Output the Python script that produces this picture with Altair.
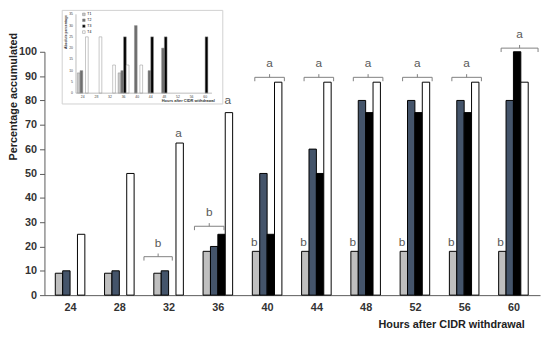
import altair as alt
import pandas as pd

# ---------------- main chart data ----------------
hours = [24, 28, 32, 36, 40, 44, 48, 52, 56, 60]
series = ["G1", "G2", "G3", "G4"]
gray_vals = [9, 9, 9, 18, 18, 18, 18, 18, 18, 18]
blue_vals = [10, 10, 10, 20, 50, 60, 80, 80, 80, 80]
black_vals = [0, 0, 0, 25, 25, 50, 75, 75, 75, 100]
white_vals = [25, 50, 62.5, 75, 87.5, 87.5, 87.5, 87.5, 87.5, 87.5]
series_colors = ["#bfbfbf", "#44546a", "#000000", "#ffffff"]
y_ticks = [0, 10, 20, 30, 40, 50, 60, 70, 80, 90, 100]

# significance brackets
br_hours = [32, 36, 40, 44, 48, 52, 56, 60]
br_level = [15.8, 28.3, 89.5, 89.5, 89.5, 89.5, 89.5, 101.5]
br_start = [-2.0, -1.9, -1.0, -1.0, -1.0, -1.0, -1.0, -1.0]
br_end = [0.3, 0.5, 1.4, 1.4, 1.4, 1.4, 1.4, 2.0]
br_letter = ["b", "b", "a", "a", "a", "a", "a", "a"]

# single letters
sl_hours = [32, 36, 40, 44, 48, 52, 56, 60]
sl_letter = ["a", "a", "b", "b", "b", "b", "b", "b"]
sl_level = [66.5, 80, 22, 22, 22, 22, 22, 22]
sl_offset = [0.8, 0.8, -1.05, -1.05, -1.05, -1.05, -1.05, -1.05]

# ---------------- inset data ----------------
inset_series = ["T1", "T2", "T3", "T4"]
inset_colors = ["#c8c8c8", "#6e6e6e", "#000000", "#ffffff"]
in_s1 = [9, 0, 0, 9, 0, 0, 0, 0, 0, 0]
in_s2 = [10, 0, 0, 10, 30, 10, 20, 0, 0, 0]
in_s3 = [0, 0, 0, 25, 0, 25, 25, 0, 0, 25]
in_s4 = [25, 25, 12.5, 12.5, 12.5, 0, 0, 0, 0, 0]
inset_yticks = [0, 5, 10, 15, 20, 25, 30, 35]

FONT = "Liberation Sans"

rows = []
for si, (name, vals) in enumerate(zip(series, [gray_vals, blue_vals, black_vals, white_vals])):
    for h, v in zip(hours, vals):
        rows.append({"hour": h, "series": name, "idx": si, "value": v})
main_df = pd.DataFrame(rows)

irows = []
for si, (name, vals) in enumerate(zip(inset_series, [in_s1, in_s2, in_s3, in_s4])):
    for h, v in zip(hours, vals):
        irows.append({"hour": h, "series": name, "idx": si, "value": v})
inset_df = pd.DataFrame(irows)

br_df = pd.DataFrame({"hour": br_hours, "level": br_level, "s": br_start,
                      "e": br_end, "letter": br_letter})
sl_df = pd.DataFrame({"hour": sl_hours, "letter": sl_letter,
                      "level": sl_level, "off": sl_offset})

W = 0.6
x_scale = alt.Scale(domain=[21.92, 62.16], zero=False, nice=False, padding=0)
y_scale = alt.Scale(domain=[0, 100], nice=False, padding=0)

x_axis = alt.Axis(values=hours, format="d", title="Hours after CIDR withdrawal",
                  ticks=False, grid=False, domainColor="#595959",
                  labelFont=FONT, labelFontSize=11, labelFontWeight="bold",
                  labelColor="#333333", labelPadding=7,
                  titleFont=FONT, titleFontSize=11, titleFontWeight="bold",
                  titleColor="#222222", titleX=487, titleY=30,
                  titleAlign="right", titleBaseline="middle")
y_axis = alt.Axis(values=y_ticks, tickCount=11, title="Percentage accumulated",
                  grid=False, tickSize=5, tickColor="#595959", domainColor="#595959",
                  labelFont=FONT, labelFontSize=11, labelFontWeight="bold",
                  labelColor="#333333", labelPadding=3, labelOverlap=False,
                  titleFont=FONT, titleFontSize=11, titleFontWeight="bold",
                  titleColor="#222222", titleX=-31, titleY=45, titleAngle=-90,
                  titleAlign="center", titleBaseline="middle")


def X(field):
    return alt.X(field, scale=x_scale, axis=x_axis)


def Y(field):
    return alt.Y(field, scale=y_scale, axis=y_axis)


bars = alt.Chart(main_df).transform_filter("datum.value > 0").transform_calculate(
    x0=f"datum.hour + datum.idx*{W} - {2 * W}",
    x1=f"datum.hour + datum.idx*{W} - {W}",
).mark_bar(stroke="black", strokeWidth=1).encode(
    x=X("x0:Q"),
    x2="x1:Q",
    y=Y("value:Q"),
    y2=alt.datum(0),
    color=alt.Color("series:N", scale=alt.Scale(domain=series, range=series_colors), legend=None),
)

br_base = alt.Chart(br_df).transform_calculate(
    xa="datum.hour + datum.s",
    xb="datum.hour + datum.e",
    xm="datum.hour + (datum.s + datum.e) / 2",
    ydown="datum.level - 1.6",
    yup="datum.level + 1.3",
    ytext="datum.level + 5.8",
)
BR_COL = "#808080"
TXT_COL = "#595959"
hline = br_base.mark_rule(color=BR_COL, strokeWidth=1).encode(
    x=X("xa:Q"), x2="xb:Q", y=Y("level:Q"))
lt = br_base.mark_rule(color=BR_COL, strokeWidth=1).encode(
    x=X("xa:Q"), y=Y("level:Q"), y2="ydown:Q")
rt = br_base.mark_rule(color=BR_COL, strokeWidth=1).encode(
    x=X("xb:Q"), y=Y("level:Q"), y2="ydown:Q")
mt = br_base.mark_rule(color=BR_COL, strokeWidth=1).encode(
    x=X("xm:Q"), y=Y("level:Q"), y2="yup:Q")
br_txt = br_base.mark_text(font=FONT, fontSize=12, fill=TXT_COL, baseline="middle").encode(
    x=X("xm:Q"), y=Y("ytext:Q"), text="letter:N")

sl_txt = alt.Chart(sl_df).transform_calculate(
    xs="datum.hour + datum.off"
).mark_text(font=FONT, fontSize=12, fill=TXT_COL, baseline="middle").encode(
    x=X("xs:Q"), y=Y("level:Q"), text="letter:N")

main = alt.layer(bars, hline, lt, rt, mt, br_txt, sl_txt)

# ---------------- inset ----------------
W2 = 0.8
ix_scale = alt.Scale(domain=[22, 62], range=[32, 170], zero=False, nice=False, padding=0)
iy_scale = alt.Scale(domain=[0, 35], range=[42, -38], nice=False, padding=0)

frame = alt.Chart(pd.DataFrame({"k": [0]})).mark_rect(
    fill="white", stroke="#d0d0d0", strokeWidth=1).encode(
    x=alt.value(18), x2=alt.value(181), y=alt.value(-42), y2=alt.value(53))

ibars = alt.Chart(inset_df).transform_filter("datum.value > 0").transform_calculate(
    x0=f"datum.hour + datum.idx*{W2} - {2 * W2}",
    x1=f"datum.hour + datum.idx*{W2} - {W2}",
).mark_bar(stroke="#8c8c8c", strokeWidth=0.5).encode(
    x=alt.X("x0:Q", scale=ix_scale, axis=None),
    x2="x1:Q",
    y=alt.Y("value:Q", scale=iy_scale, axis=None),
    y2=alt.datum(0),
    color=alt.Color("series:N", scale=alt.Scale(domain=inset_series, range=inset_colors),
                    legend=alt.Legend(orient="none", legendX=38, legendY=-40, title=None,
                                      labelFontSize=3.5, labelFont=FONT, symbolSize=7,
                                      symbolType="square", symbolStrokeColor="#8c8c8c",
                                      symbolStrokeWidth=0.5, rowPadding=0,
                                      labelOffset=1.5, padding=0)),
)

iaxis_x = alt.Chart(pd.DataFrame({"k": [0]})).mark_rule(color="#a0a0a0", strokeWidth=0.7).encode(
    x=alt.X(datum=22, scale=ix_scale, axis=None), x2=alt.datum(62),
    y=alt.Y(datum=0, scale=iy_scale, axis=None))
iaxis_y = alt.Chart(pd.DataFrame({"k": [0]})).mark_rule(color="#a0a0a0", strokeWidth=0.7).encode(
    x=alt.X(datum=22, scale=ix_scale, axis=None),
    y=alt.Y(datum=0, scale=iy_scale, axis=None), y2=alt.datum(35))

iyl = alt.Chart(pd.DataFrame({"v": inset_yticks})).mark_text(
    font=FONT, fontSize=3.5, align="right", baseline="middle", color="#444444").encode(
    x=alt.value(29), y=alt.Y("v:Q", scale=iy_scale, axis=None), text="v:Q")
ixl = alt.Chart(pd.DataFrame({"h": hours})).mark_text(
    font=FONT, fontSize=3.5, baseline="middle", color="#444444").encode(
    x=alt.X("h:Q", scale=ix_scale, axis=None), y=alt.value(46), text="h:Q")
ixt = alt.Chart(pd.DataFrame({"t": ["Hours after CIDR withdrawal"]})).mark_text(
    font=FONT, fontSize=4, fontWeight="bold", align="right", baseline="middle",
    color="#333333").encode(x=alt.value(173), y=alt.value(50), text="t:N")
iyt = alt.Chart(pd.DataFrame({"t": ["Absolute percentage"]})).mark_text(
    font=FONT, fontSize=3.5, fontWeight="bold", angle=270, baseline="middle",
    color="#333333").encode(x=alt.value(22), y=alt.value(-20), text="t:N")

inset = alt.layer(frame, ibars, iaxis_x, iaxis_y, iyl, ixl, ixt, iyt)

chart = alt.layer(main, inset).resolve_scale(
    x="independent", y="independent", color="independent"
).properties(
    width=503, height=247,
    padding={"left": 37, "top": 42, "right": 2, "bottom": 36},
    autosize=alt.AutoSizeParams(type="none"),
    background="white",
).configure_view(stroke=None)

chart.save("out.html", embed_options={"renderer": "svg", "actions": False})
